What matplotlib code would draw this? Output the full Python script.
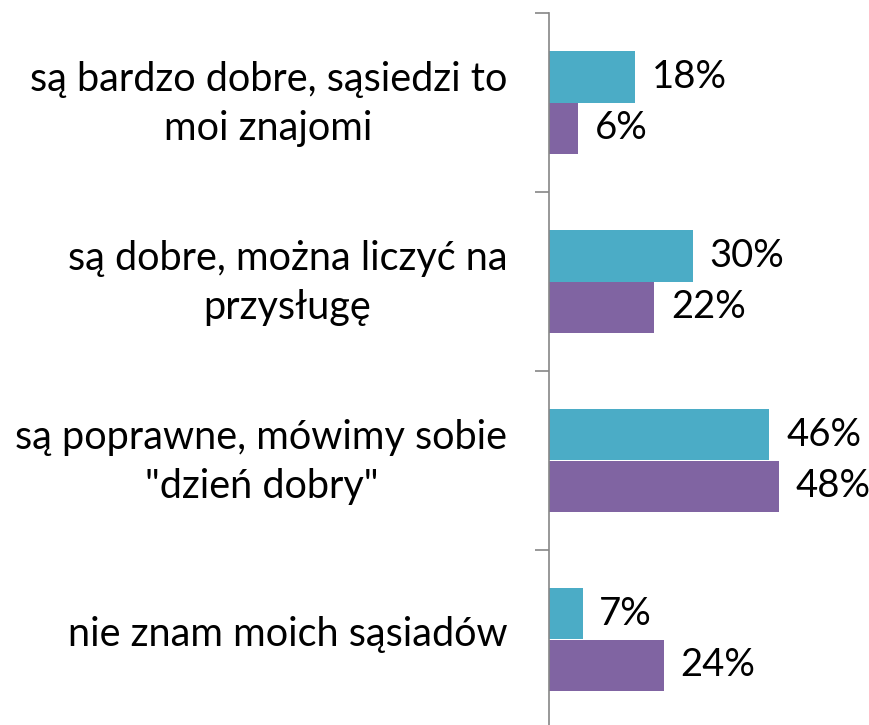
import matplotlib.pyplot as plt
import matplotlib.transforms as mtransforms
import numpy as np

plt.rcParams["font.family"] = ["Lato", "DejaVu Sans"]

categories = [
    "są bardzo dobre, sąsiedzi to\nmoi znajomi",
    "są dobre, można liczyć na\nprzysługę",
    "są poprawne, mówimy sobie\n\"dzień dobry\"",
    "nie znam moich sąsiadów",
]
series_a = [18, 30, 46, 7]
series_b = [6, 22, 48, 24]

color_a = "#4BACC6"
color_b = "#8064A2"

fig = plt.figure(figsize=(8.7, 7.25), dpi=100)
ax = fig.add_axes([549 / 870, -4 / 725, 321 / 870, 716 / 725])

y = np.arange(len(categories))
h = 0.285
ax.barh(y - h / 2, series_a, height=h, color=color_a)
ax.barh(y + h / 2, series_b, height=h, color=color_b)

for yi, a, b in zip(y, series_a, series_b):
    ax.annotate(f"{a}%", (a, yi - h / 2), xytext=(12, 0), textcoords="offset points",
                va="center", ha="left", fontsize=27.5)
    ax.annotate(f"{b}%", (b, yi + h / 2), xytext=(12, 0), textcoords="offset points",
                va="center", ha="left", fontsize=27.5)

ax.set_xlim(0, 67)
ax.set_ylim(len(categories) - 0.5, -0.5)

for s in ["top", "right", "bottom"]:
    ax.spines[s].set_visible(False)
ax.spines["left"].set_color("#868686")
ax.spines["left"].set_linewidth(1.2)
ax.set_xticks([])

ax.set_yticks(np.arange(len(categories) + 1) - 0.5)
ax.set_yticklabels([])
ax.tick_params(axis="y", which="major", length=10, width=1.2, color="#868686")
ax.set_yticks(y, minor=True)
ax.set_yticklabels(categories, minor=True, fontsize=28.5, ha="right",
                   multialignment="center", linespacing=1.42)
ax.tick_params(axis="y", which="minor", length=0, pad=30)

# nudge category labels up a little, like the original
shift = mtransforms.ScaledTranslation(0, 6 / 72, fig.dpi_scale_trans)
for lbl in ax.get_yticklabels(minor=True):
    lbl.set_transform(lbl.get_transform() + shift)

fig.savefig("out.png", dpi=100)
